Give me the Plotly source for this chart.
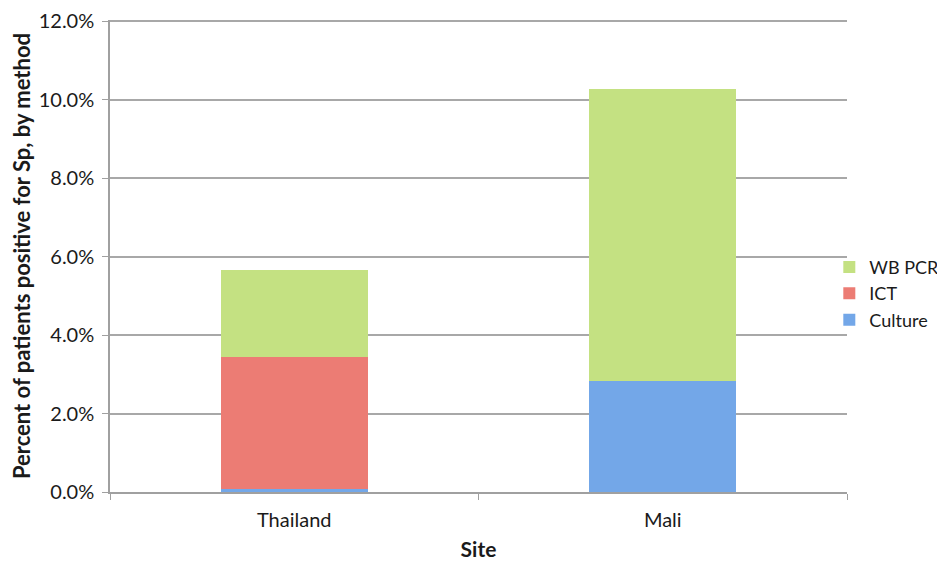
import plotly.graph_objects as go

sites = ["Thailand", "Mali"]
culture = [0.07, 2.84]
ict = [3.38, 0.0]
wb_pcr = [2.21, 7.42]
y_ticks = [0, 2, 4, 6, 8, 10, 12]
y_tick_labels = ["0.0%", "2.0%", "4.0%", "6.0%", "8.0%", "10.0%", "12.0%"]

FONT = "Lato, Open Sans, sans-serif"

fig = go.Figure()
fig.add_trace(go.Bar(name="Culture", x=sites, y=culture, marker=dict(color="#73a7e8", line=dict(width=0))))
fig.add_trace(go.Bar(name="ICT", x=sites, y=ict, marker=dict(color="#ec7c74", line=dict(width=0))))
fig.add_trace(go.Bar(name="WB PCR", x=sites, y=wb_pcr, marker=dict(color="#c4e182", line=dict(width=0))))

fig.update_layout(
    barmode="stack",
    bargap=0.6,
    width=937, height=557,
    margin=dict(l=102, r=98, t=12, b=73, autoexpand=False),
    paper_bgcolor="white", plot_bgcolor="white",
    font=dict(family=FONT, size=20, color="#1a1a1a"),
    legend=dict(x=0.976, xanchor="left", y=0.42, yanchor="middle", traceorder="reversed",
                font=dict(size=18), itemwidth=30, bgcolor="rgba(0,0,0,0)"),
    showlegend=True,
)
fig.update_xaxes(
    tickson="boundaries", ticks="outside", ticklen=6, tickcolor="#a0a0a0",
    ticklabelstandoff=9,
    showline=True, linecolor="#a0a0a0", linewidth=1.5, showgrid=False,
    title=dict(text="<b>Site</b>", font=dict(size=21), standoff=13),
)
fig.update_yaxes(
    range=[0, 12.03], tickvals=y_ticks, ticktext=y_tick_labels,
    ticks="outside", ticklen=6, tickcolor="#a0a0a0", ticklabelstandoff=4,
    ticklabeloverflow="allow",
    showline=True, linecolor="#a0a0a0", linewidth=1.5,
    showgrid=True, gridcolor="#a8a8a8", gridwidth=1.5, zeroline=False,
    title=dict(text="<b>Percent of patients positive for Sp, by method</b>", font=dict(size=22), standoff=10),
)

fig.write_html("out.html")
